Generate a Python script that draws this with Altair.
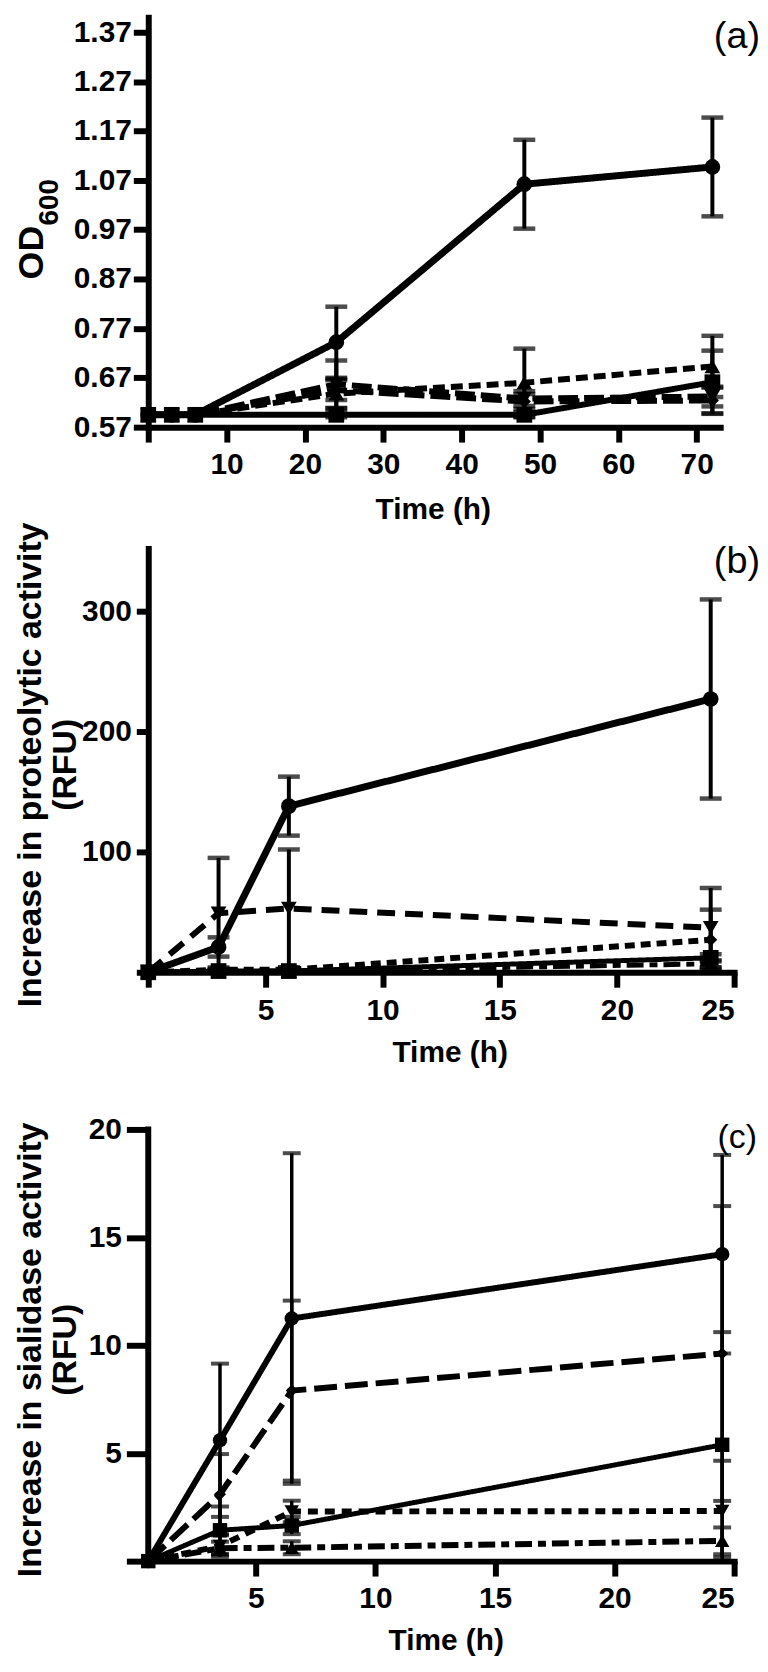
import altair as alt
import pandas as pd

SERIES = ["circle", "square", "triangle-up", "triangle-down", "diamond"]

# ---------------- Panel (a): OD600 ----------------
a_time = [0, 3, 6, 24, 48, 72]
a_circle = [0.595, 0.595, 0.595, 0.742, 1.062, 1.097]
a_circle_sd = [0, 0, 0, 0.072, 0.090, 0.100]
a_square = [0.595, 0.595, 0.595, 0.595, 0.595, 0.661]
a_square_sd = [0, 0, 0, 0.005, 0.005, 0.064]
a_tri_up = [0.595, 0.595, 0.595, 0.638, 0.660, 0.693]
a_tri_up_sd = [0, 0, 0, 0.030, 0.069, 0.062]
a_tri_down = [0.595, 0.595, 0.595, 0.657, 0.628, 0.632]
a_tri_down_sd = [0, 0, 0, 0.048, 0.015, 0.020]
a_diamond = [0.595, 0.595, 0.595, 0.645, 0.622, 0.624]
a_diamond_sd = [0, 0, 0, 0.020, 0.015, 0.026]
a_xticks = [0, 10, 20, 30, 40, 50, 60, 70]
a_yticks = [0.57, 0.67, 0.77, 0.87, 0.97, 1.07, 1.17, 1.27, 1.37]

# ---------------- Panel (b): proteolytic activity ----------------
b_time = [0, 3, 6, 24]
b_circle = [0, 21, 138, 227]
b_circle_sd = [0, 8, 24.5, 82.7]
b_square = [0, 1, 1, 12]
b_square_sd = [0, 1, 1, 3]
b_tri_up = [0, 1, 1, 7]
b_tri_up_sd = [0, 1, 1, 3]
b_tri_down = [0, 49, 53, 37]
b_tri_down_sd = [0, 46, 49, 33]
b_diamond = [0, 2, 2, 27]
b_diamond_sd = [0, 2, 2, 25]
b_xticks = [0, 5, 10, 15, 20, 25]
b_yticks = [0, 100, 200, 300]

# ---------------- Panel (c): sialidase activity ----------------
c_time = [0.5, 3.5, 6.5, 24.5]
c_circle = [0, 5.6, 11.24, 14.22]
c_circle_sd = [0, 3.55, 7.66, 4.6]
c_square = [0, 1.43, 1.65, 5.39]
c_square_sd = [0, 1.1, 0.4, 5.22]
c_tri_up = [0, 0.6, 0.62, 0.94]
c_tri_up_sd = [0, 0.3, 0.3, 0.62]
c_tri_down = [0, 0.7, 2.3, 2.32]
c_tri_down_sd = [0, 0.5, 0.5, 2.33]
c_diamond = [0, 3.1, 7.9, 9.62]
c_diamond_sd = [0, 1.86, 4.17, 6.83]
c_xticks = [0, 5, 10, 15, 20, 25]
c_yticks = [0, 5, 10, 15, 20]

panel_labels = ["(a)", "(b)", "(c)"]
x_title = "Time (h)"
a_ytitle = "OD"
a_ytitle_sub = "600"
b_ytitle = ["Increase in proteolytic activity", "(RFU)"]
c_ytitle = ["Increase in sialidase activity", "(RFU)"]

FONT = "Liberation Sans, Arial, sans-serif"
NARROW = "Liberation Sans Narrow, Liberation Sans, sans-serif"


def build(time, vals, sds):
    rows = []
    for s in SERIES:
        for t, v, e in zip(time, vals[s], sds[s]):
            rows.append({"series": s, "t": t, "v": v, "lo": v - e, "hi": v + e, "sd": e})
    df = pd.DataFrame(rows)
    err = df[df["sd"] > 0].copy()
    caps = pd.concat([
        err.assign(cap=err["lo"]),
        err.assign(cap=err["hi"]),
    ])
    return df, err, caps


def panel(time, vals, sds, styles, width, height, xdom, ydom, xticks, yticks,
          yfmt, ytitle, xaxis_kw, yaxis_kw, label, label_pos, label_size,
          cap_size, err_w, pt_size, yline=False, sub=None):
    df, err, caps = build(time, vals, sds)
    xs = alt.Scale(domain=xdom, nice=False, zero=False)
    ys = alt.Scale(domain=ydom, nice=False, zero=False)
    xaxis = alt.Axis(values=xticks, labelExpr="datum.value == 0 ? '' : datum.label",
                     format="d", title=x_title, titleBaseline="middle",
                     titleAlign="center", domainCap="square", **xaxis_kw)
    yaxis = alt.Axis(values=yticks, format=yfmt, title=ytitle,
                     labelExpr="datum.value == 0 ? '' : datum.label",
                     titleAngle=270, titleBaseline="middle", titleAlign="center",
                     domainCap="square", **yaxis_kw)
    X = lambda f: alt.X(f, scale=xs, axis=xaxis)
    Y = lambda f: alt.Y(f, scale=ys, axis=yaxis)

    layers = []
    layers.append(alt.Chart(err).mark_rule(color="black", strokeWidth=err_w).encode(
        x=X("t:Q"), y=Y("lo:Q"), y2="hi:Q"))
    layers.append(alt.Chart(caps).mark_tick(color="black", orient="horizontal",
                                            size=cap_size, thickness=err_w + 0.5).encode(
        x=X("t:Q"), y=Y("cap:Q")))
    for s in SERIES:
        dash, w = styles[s]
        layers.append(alt.Chart(df[df["series"] == s]).mark_line(
            color="black", strokeWidth=w, strokeDash=dash).encode(
            x=X("t:Q"), y=Y("v:Q")))
    for s in ["circle", "triangle-up", "triangle-down", "diamond", "square"]:
        layers.append(alt.Chart(df[df["series"] == s]).mark_point(
            shape=s, filled=True, color="black", opacity=1,
            size=pt_size if s != "diamond" else pt_size * 0.7).encode(
            x=X("t:Q"), y=Y("v:Q")))
    if yline:
        axdf = pd.DataFrame({"x": [time[0]], "y0": [min(yticks)], "y1": [max(yticks)]})
        layers.append(alt.Chart(axdf).mark_rule(color="black", strokeWidth=6,
                                                strokeCap="square").encode(
            x=X("x:Q"), y=Y("y0:Q"), y2="y1:Q"))
    layers.append(alt.Chart(pd.DataFrame({"lab": [label]})).mark_text(
        align="right", baseline="middle", font=NARROW, fontSize=label_size,
        color="black").encode(text="lab:N", x=alt.value(label_pos[0]),
                              y=alt.value(label_pos[1])))
    if sub is not None:
        txt, sx, sy, sfs = sub
        layers.append(alt.Chart(pd.DataFrame({"lab": [txt]})).mark_text(
            align="center", baseline="middle", angle=270, font=FONT, fontWeight="bold",
            fontSize=sfs, color="black").encode(text="lab:N", x=alt.value(sx),
                                                 y=alt.value(sy)))
    return alt.layer(*layers).properties(width=width, height=height)


common_x = dict(tickSize=15, tickWidth=6, domainWidth=6, labelPadding=8)

a = panel(
    a_time,
    {"circle": a_circle, "square": a_square, "triangle-up": a_tri_up,
     "triangle-down": a_tri_down, "diamond": a_diamond},
    {"circle": a_circle_sd, "square": a_square_sd, "triangle-up": a_tri_up_sd,
     "triangle-down": a_tri_down_sd, "diamond": a_diamond_sd},
    {"circle": ([1, 0], 7), "square": ([1, 0], 6), "triangle-up": ([12, 6], 6),
     "triangle-down": ([20, 6], 6), "diamond": ([20, 6], 6)},
    575, 412, [0, 73], [0.57, 1.40], a_xticks, a_yticks, ".2f", a_ytitle,
    dict(common_x, titleX=286, titleY=83),
    dict(tickSize=15, tickWidth=6, domainWidth=6, labelPadding=2,
         titleX=-117, titleY=236, titleFontSize=36),
    panel_labels[0], (615, 20), 38, 22, 4, 250,
    sub=(a_ytitle_sub, -99, 186, 28))

b = panel(
    b_time,
    {"circle": b_circle, "square": b_square, "triangle-up": b_tri_up,
     "triangle-down": b_tri_down, "diamond": b_diamond},
    {"circle": b_circle_sd, "square": b_square_sd, "triangle-up": b_tri_up_sd,
     "triangle-down": b_tri_down_sd, "diamond": b_diamond_sd},
    {"circle": ([1, 0], 7), "square": ([1, 0], 5), "triangle-up": ([17, 6, 8, 6], 5),
     "triangle-down": ([18, 10], 6), "diamond": ([10, 6], 6)},
    589, 426, [0, 25], [0, 352], b_xticks, b_yticks, "d", b_ytitle,
    dict(common_x, titleX=303, titleY=81),
    dict(tickSize=12, tickWidth=6, domainWidth=6, labelPadding=5,
         titleX=-118, titleY=217, titleFontSize=34, titleLineHeight=35),
    panel_labels[1], (615, 14), 38, 22, 4, 250)

c = panel(
    c_time,
    {"circle": c_circle, "square": c_square, "triangle-up": c_tri_up,
     "triangle-down": c_tri_down, "diamond": c_diamond},
    {"circle": c_circle_sd, "square": c_square_sd, "triangle-up": c_tri_up_sd,
     "triangle-down": c_tri_down_sd, "diamond": c_diamond_sd},
    {"circle": ([1, 0], 6), "square": ([1, 0], 5), "triangle-up": ([17, 6, 8, 6], 6),
     "triangle-down": ([10, 7], 6), "diamond": ([23, 8], 6)},
    589, 470, [0.5, 25], [0, 21.66], c_xticks, c_yticks, "d", c_ytitle,
    dict(common_x, titleX=299, titleY=80),
    dict(tickSize=22, tickWidth=6, domain=False, labelPadding=5,
         titleX=-118, titleY=257, titleFontSize=34, titleLineHeight=35),
    panel_labels[2], (612, 45), 34, 18, 3.5, 210, yline=True)

chart = alt.vconcat(a, b, c, spacing=122, bounds="flush").properties(
    padding={"left": 5, "top": 4, "right": 0, "bottom": 0}
).configure_view(stroke=None).configure_axis(
    grid=False, domainColor="black", tickColor="black", labelColor="black",
    titleColor="black", labelFont=FONT, labelFontWeight="bold", labelFontSize=30,
    titleFont=FONT, titleFontWeight="bold", titleFontSize=30
)

chart.save("out.html", embed_options={"renderer": "svg", "actions": False})
